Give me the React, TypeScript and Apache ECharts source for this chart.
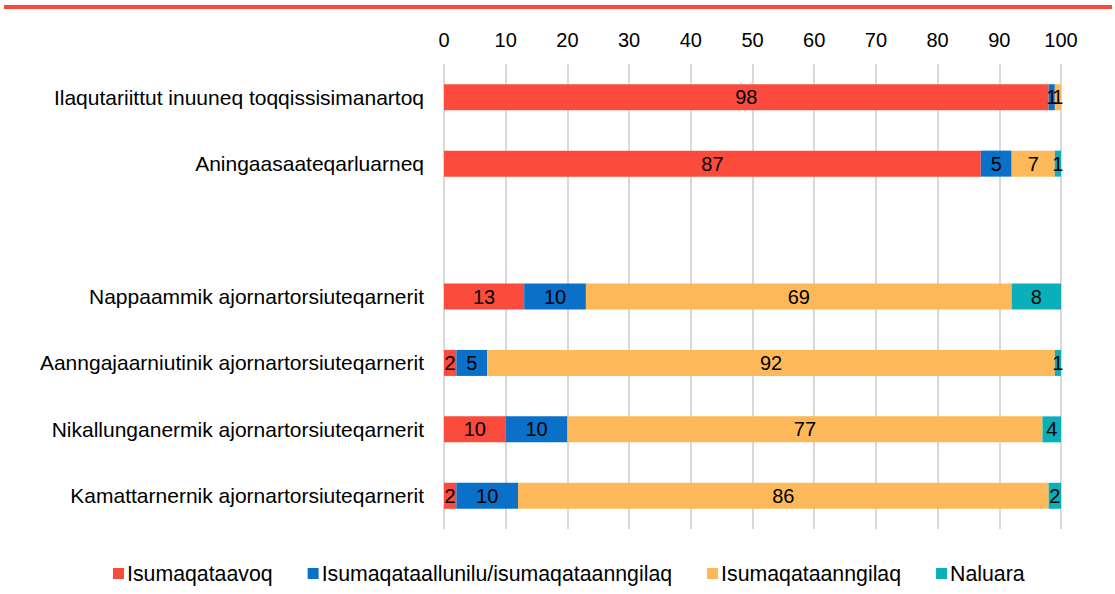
import React, { useEffect, useRef } from "react";
import * as echarts from "echarts";

const categories = [
  "Ilaqutariittut inuuneq toqqissisimanartoq",
  "Aningaasaateqarluarneq",
  "",
  "Nappaammik ajornartorsiuteqarnerit",
  "Aanngajaarniutinik ajornartorsiuteqarnerit",
  "Nikallunganermik ajornartorsiuteqarnerit",
  "Kamattarnernik ajornartorsiuteqarnerit",
];
const seriesNames = [
  "Isumaqataavoq",
  "Isumaqataallunilu/isumaqataanngilaq",
  "Isumaqataanngilaq",
  "Naluara",
];
const isumaqataavoq = [98, 87, null, 13, 2, 10, 2];
const isumaqataallunilu = [1, 5, null, 10, 5, 10, 10];
const isumaqataanngilaq = [1, 7, null, 69, 92, 77, 86];
const naluara = [0, 1, null, 8, 1, 4, 2];
const xTicks = [0, 100, 10];
const colors = ["#FA4B3C", "#0A70C8", "#FDB85A", "#0BAFB9"];

export default function App() {
  const ref = useRef<HTMLDivElement>(null);
  useEffect(() => {
    if (!ref.current) return;
    const chart = echarts.init(ref.current, null, { renderer: "svg" });
    const data = [isumaqataavoq, isumaqataallunilu, isumaqataanngilaq, naluara];
    const font = "Liberation Sans, Arial, sans-serif";
    chart.setOption({
      animation: false,
      textStyle: { fontFamily: font },
      color: colors,
      graphic: [
        {
          type: "rect",
          shape: { x: 4, y: 5, width: 1108, height: 4 },
          style: { fill: "#F84B3C" },
        },
      ],
      grid: { left: 444, right: 54, top: 64, bottom: 65, containLabel: false },
      legend: {
        bottom: 5,
        left: 108,
        itemWidth: 11,
        itemHeight: 11,
        itemGap: 35,
        icon: "rect",
        textStyle: { fontSize: 21.3, color: "#000", fontFamily: font, padding: [0, 0, 0, -2] },
        data: seriesNames,
      },
      xAxis: {
        type: "value",
        position: "top",
        min: xTicks[0],
        max: xTicks[1],
        interval: xTicks[2],
        axisLine: { show: false },
        axisTick: { show: false },
        axisLabel: { fontSize: 20, color: "#000", margin: 14 },
        splitLine: { lineStyle: { color: "#D9D9D9", width: 2 } },
      },
      yAxis: {
        type: "category",
        inverse: true,
        data: categories,
        axisLine: { show: false },
        axisTick: { show: false },
        axisLabel: { fontSize: 21, color: "#000", margin: 20 },
      },
      series: seriesNames.map((name, i) => ({
        name,
        type: "bar",
        stack: "total",
        barWidth: 26,
        data: data[i],
        itemStyle: { color: colors[i] },
        label: {
          show: true,
          position: "inside",
          color: "#000",
          fontSize: 20,
          formatter: (p: any) => (p.value > 0 ? String(p.value) : ""),
        },
      })),
    });
    return () => chart.dispose();
  }, []);
  return <div ref={ref} style={{ width: 1115, height: 594, position: "absolute", left: 0, top: 0 }} />;
}
